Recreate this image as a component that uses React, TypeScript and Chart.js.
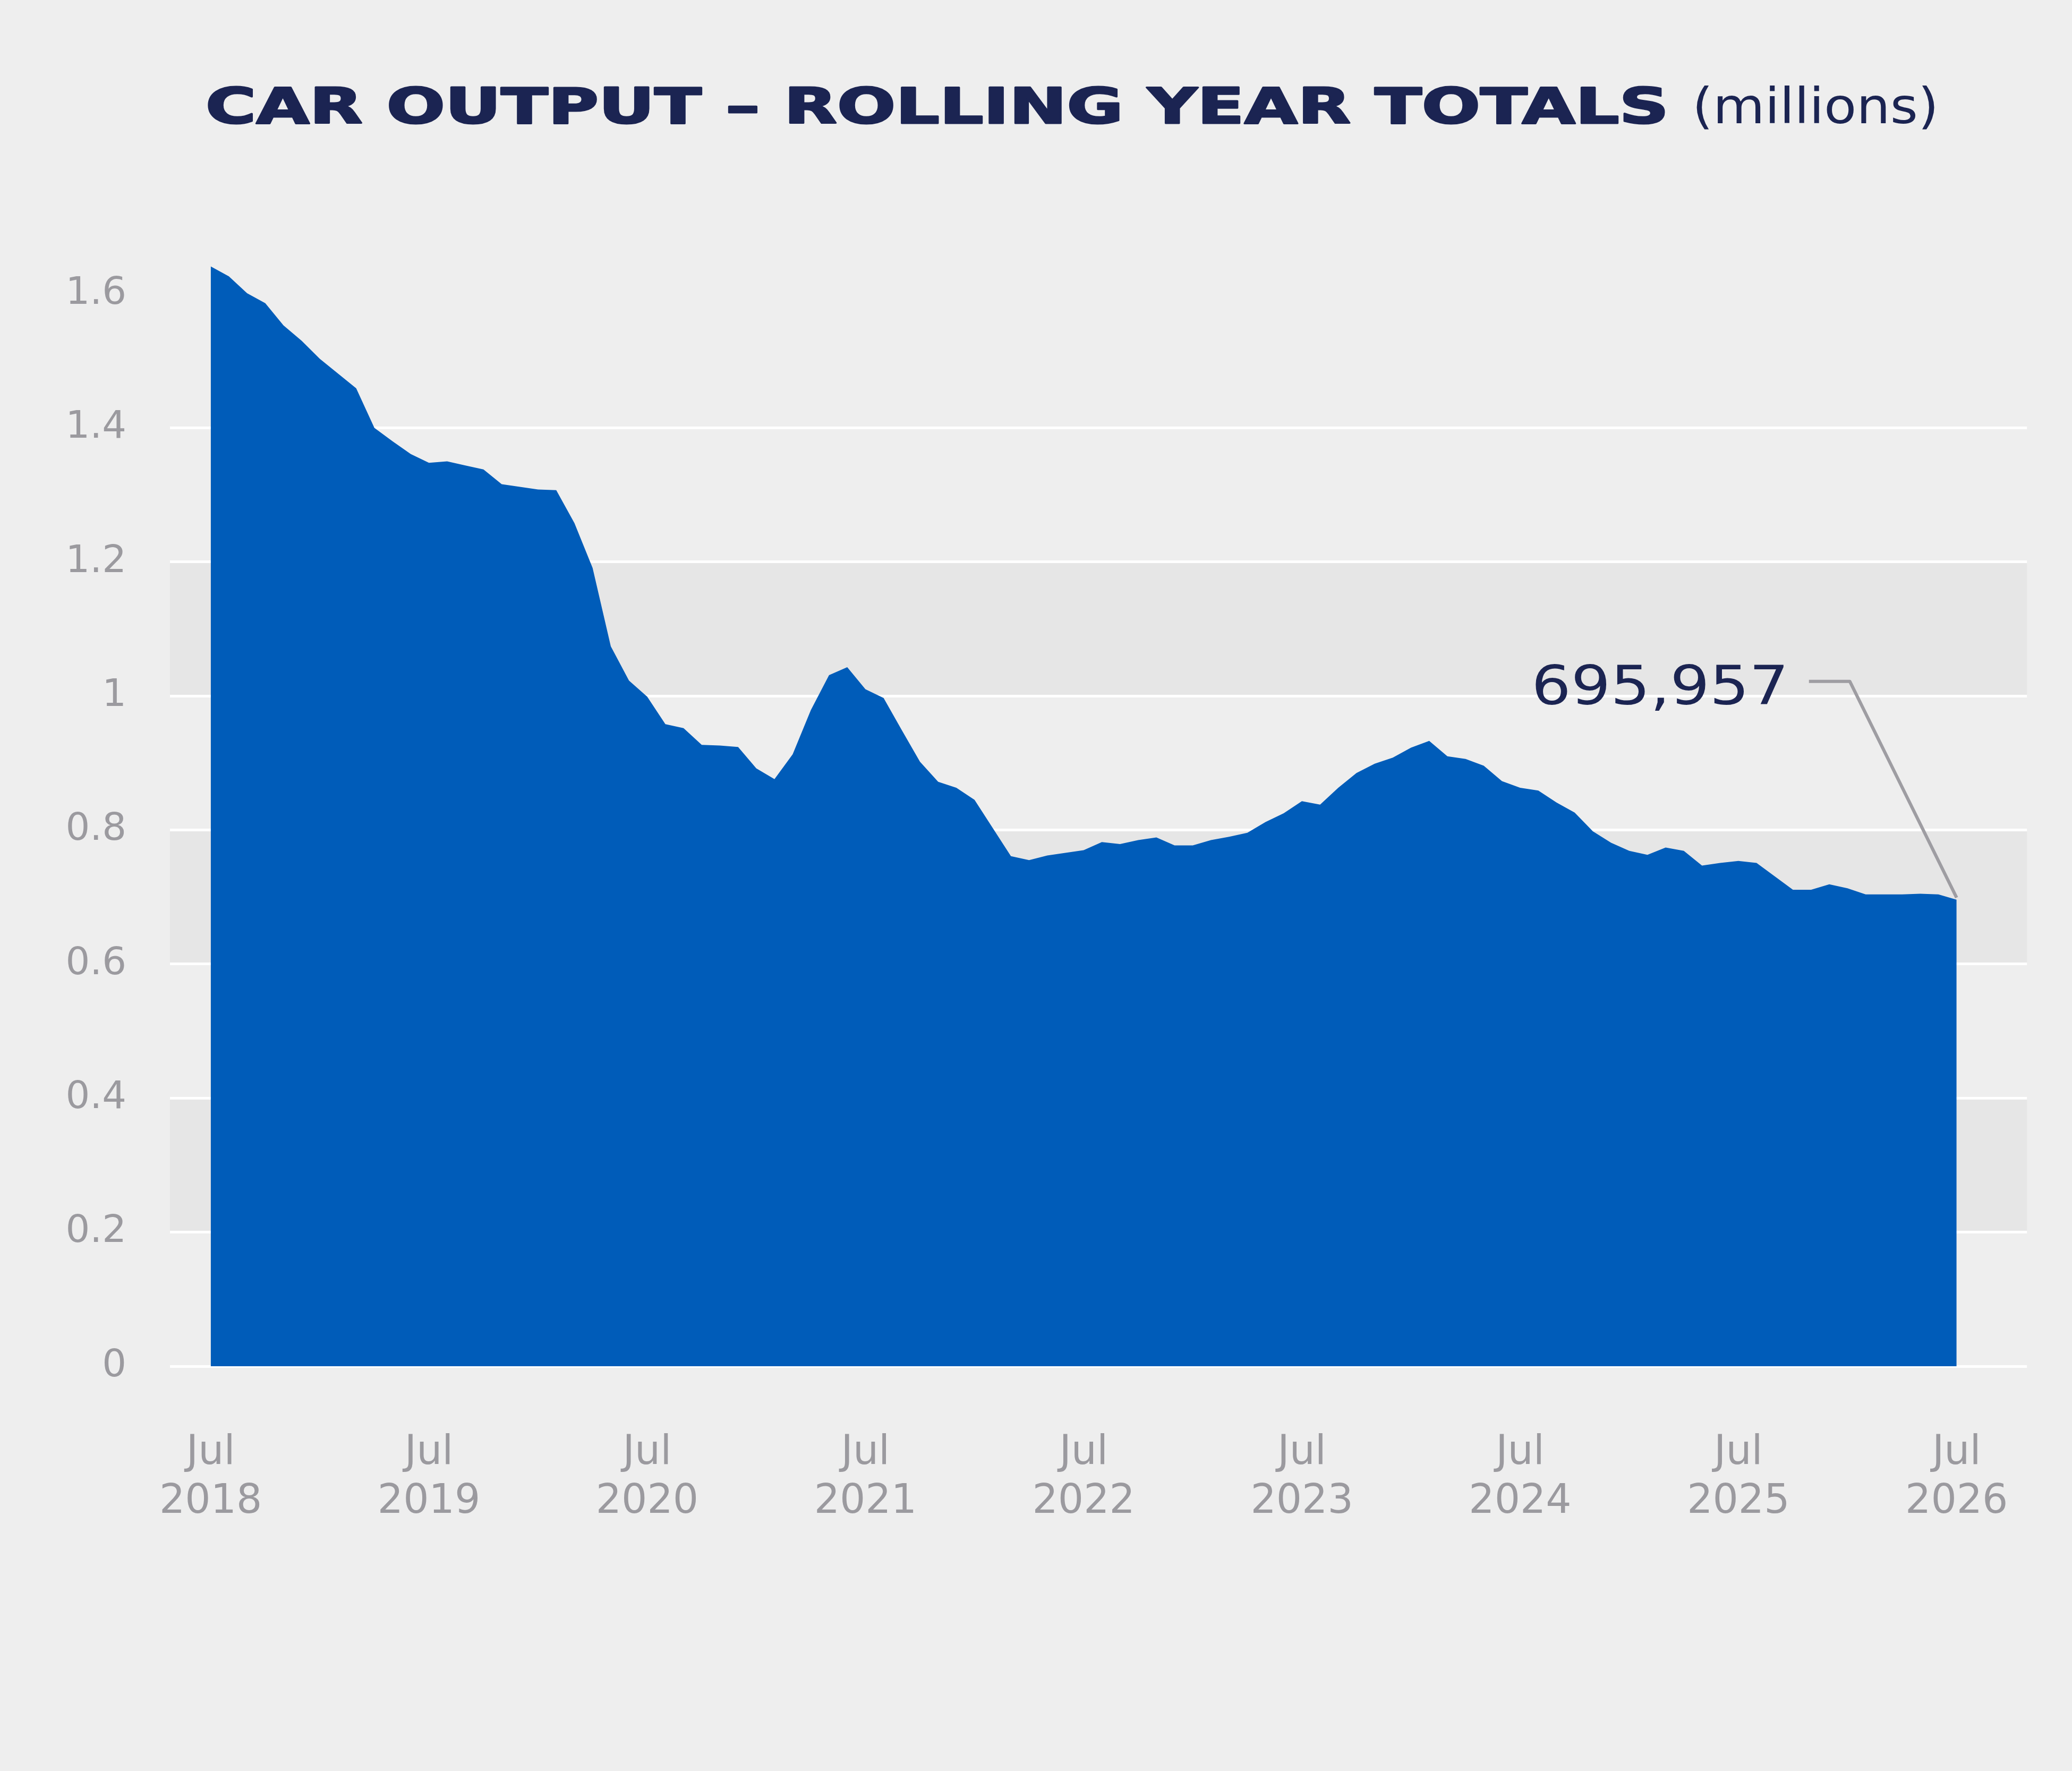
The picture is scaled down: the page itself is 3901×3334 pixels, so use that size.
import { useEffect, useRef } from 'react';
import { Chart, registerables } from 'chart.js';

Chart.register(...registerables);

const W = 3901;
const H = 3334;
const NAVY = '#1b2452';
const GREY = '#9b9a9f';
const BLUE = '#005cb9';

const titleMain = 'CAR OUTPUT – ROLLING YEAR TOTALS';
const titleUnit = '(millions)';

// rolling 12-month car output, millions, monthly Jul 2018 .. Jul 2026
const output = [
  1.641, 1.626, 1.601, 1.586, 1.553, 1.530, 1.503, 1.481, 1.459, 1.400,
  1.380, 1.361, 1.348, 1.350, 1.344, 1.338, 1.316, 1.312, 1.308, 1.307,
  1.258, 1.191, 1.074, 1.023, 0.999, 0.958, 0.952, 0.927, 0.926, 0.924,
  0.892, 0.876, 0.913, 0.979, 1.031, 1.043, 1.010, 0.997, 0.949, 0.902,
  0.872, 0.863, 0.845, 0.803, 0.761, 0.755, 0.762, 0.766, 0.770, 0.782,
  0.779, 0.785, 0.789, 0.777, 0.777, 0.785, 0.790, 0.796, 0.812, 0.825,
  0.843, 0.838, 0.863, 0.885, 0.899, 0.908, 0.923, 0.933, 0.910, 0.906,
  0.896, 0.873, 0.863, 0.859, 0.841, 0.826, 0.798, 0.781, 0.769, 0.763,
  0.774, 0.769, 0.747, 0.751, 0.754, 0.751, 0.731, 0.711, 0.711, 0.719,
  0.713, 0.704, 0.704, 0.704, 0.705, 0.704, 0.695957,
];

const tickMonth = 'Jul';
const tickYears = ['2018', '2019', '2020', '2021', '2022', '2023', '2024', '2025', '2026'];
const yTicks = [0, 0.2, 0.4, 0.6, 0.8, 1, 1.2, 1.4, 1.6];
// shaded horizontal bands [from, to]
const bands = [
  [0.2, 0.4],
  [0.6, 0.8],
  [1.0, 1.2],
];

const backdrop = {
  id: 'backdrop',
  beforeDraw(chart: any) {
    const { ctx, chartArea: a } = chart;
    const y = chart.scales.y;
    ctx.save();
    ctx.fillStyle = '#eeeeee';
    ctx.fillRect(0, 0, chart.width, chart.height);
    ctx.fillStyle = '#e6e6e6';
    for (const [lo, hi] of bands) {
      const top = y.getPixelForValue(hi);
      const bot = y.getPixelForValue(lo);
      ctx.fillRect(a.left, top, a.right - a.left, bot - top);
    }
    ctx.restore();
  },
};

const titleAndNote = {
  id: 'titleAndNote',
  afterDraw(chart: any) {
    const { ctx } = chart;
    ctx.save();
    ctx.fillStyle = NAVY;
    ctx.strokeStyle = NAVY;
    ctx.lineJoin = 'round';
    ctx.textBaseline = 'alphabetic';

    // wide heavy title, stretched to fit
    ctx.font = 'bold 92px "DejaVu Sans"';
    const w1 = ctx.measureText(titleMain).width;
    ctx.save();
    ctx.translate(387, 232);
    ctx.scale(2755 / w1, 1);
    ctx.lineWidth = 3;
    ctx.fillText(titleMain, 0, 0);
    ctx.strokeText(titleMain, 0, 0);
    ctx.restore();

    ctx.font = '92px "DejaVu Sans"';
    const w2 = ctx.measureText(titleUnit).width;
    ctx.save();
    ctx.translate(3186, 232);
    ctx.scale(464 / w2, 1);
    ctx.fillText(titleUnit, 0, 0);
    ctx.restore();

    // callout on the latest value
    const meta = chart.getDatasetMeta(0);
    const last = meta.data[meta.data.length - 1];
    const px = last.x;
    const py = last.y;
    ctx.strokeStyle = '#9e9da2';
    ctx.lineWidth = 6;
    ctx.beginPath();
    ctx.moveTo(px - 278, py - 411);
    ctx.lineTo(px - 201, py - 411);
    ctx.lineTo(px, py - 4);
    ctx.stroke();

    const v = output[output.length - 1];
    const label = Math.round(v * 1e6).toLocaleString('en-US');
    ctx.font = '101px "DejaVu Sans"';
    ctx.textAlign = 'right';
    ctx.translate(px - 316, py - 368);
    ctx.scale(1.16, 1);
    ctx.fillText(label, 0, 0);
    ctx.restore();
  },
};

export default function App() {
  const canvasRef = useRef<HTMLCanvasElement>(null);
  const chartRef = useRef<Chart | null>(null);

  useEffect(() => {
    if (!canvasRef.current) return;
    document.body.style.margin = '0';
    document.body.style.overflow = 'hidden';
    chartRef.current = new Chart(canvasRef.current, {
      type: 'line',
      data: {
        datasets: [
          {
            data: output.map((v, i) => ({ x: i, y: v })),
            backgroundColor: BLUE,
            borderWidth: 0,
            pointRadius: 0,
            fill: 'origin',
            tension: 0,
          },
        ],
      },
      options: {
        animation: false,
        responsive: false,
        devicePixelRatio: 1,
        events: [],
        layout: { padding: { top: 427, right: 67, left: 0, bottom: 0 } },
        plugins: { legend: { display: false }, tooltip: { enabled: false } },
        scales: {
          x: {
            type: 'linear',
            min: -2.24,
            max: 99.87,
            afterBuildTicks: (s: any) => {
              s.ticks = tickYears.map((_, i) => ({ value: i * 12 }));
            },
            afterFit: (s: any) => {
              s.height = 762;
            },
            grid: { display: false, drawTicks: false },
            border: { display: false },
            ticks: {
              autoSkip: false,
              maxRotation: 0,
              padding: 118,
              color: GREY,
              font: { family: '"DejaVu Sans"', size: 76, lineHeight: 1.21 },
              callback: (_v: any, i: number) => [tickMonth, tickYears[i]],
            },
          },
          y: {
            type: 'linear',
            min: 0,
            max: 1.7,
            afterBuildTicks: (s: any) => {
              s.ticks = yTicks.map((v) => ({ value: v }));
            },
            afterFit: (s: any) => {
              s.width = 320;
            },
            grid: {
              drawTicks: false,
              lineWidth: 5,
              color: (c: any) => (c.tick && c.tick.value > 1.5 ? 'rgba(0,0,0,0)' : '#ffffff'),
            },
            border: { display: false },
            ticks: {
              padding: 82,
              color: GREY,
              font: { family: '"DejaVu Sans"', size: 72 },
              callback: (v: any) => String(Math.round(Number(v) * 10) / 10),
            },
          },
        },
      },
      plugins: [backdrop, titleAndNote],
    } as any);
    return () => {
      chartRef.current?.destroy();
      chartRef.current = null;
    };
  }, []);

  return (
    <div style={{ position: 'fixed', left: 0, top: 0, width: W, height: H, background: '#eeeeee' }}>
      <canvas ref={canvasRef} width={W} height={H} style={{ display: 'block', width: W, height: H }} />
    </div>
  );
}
